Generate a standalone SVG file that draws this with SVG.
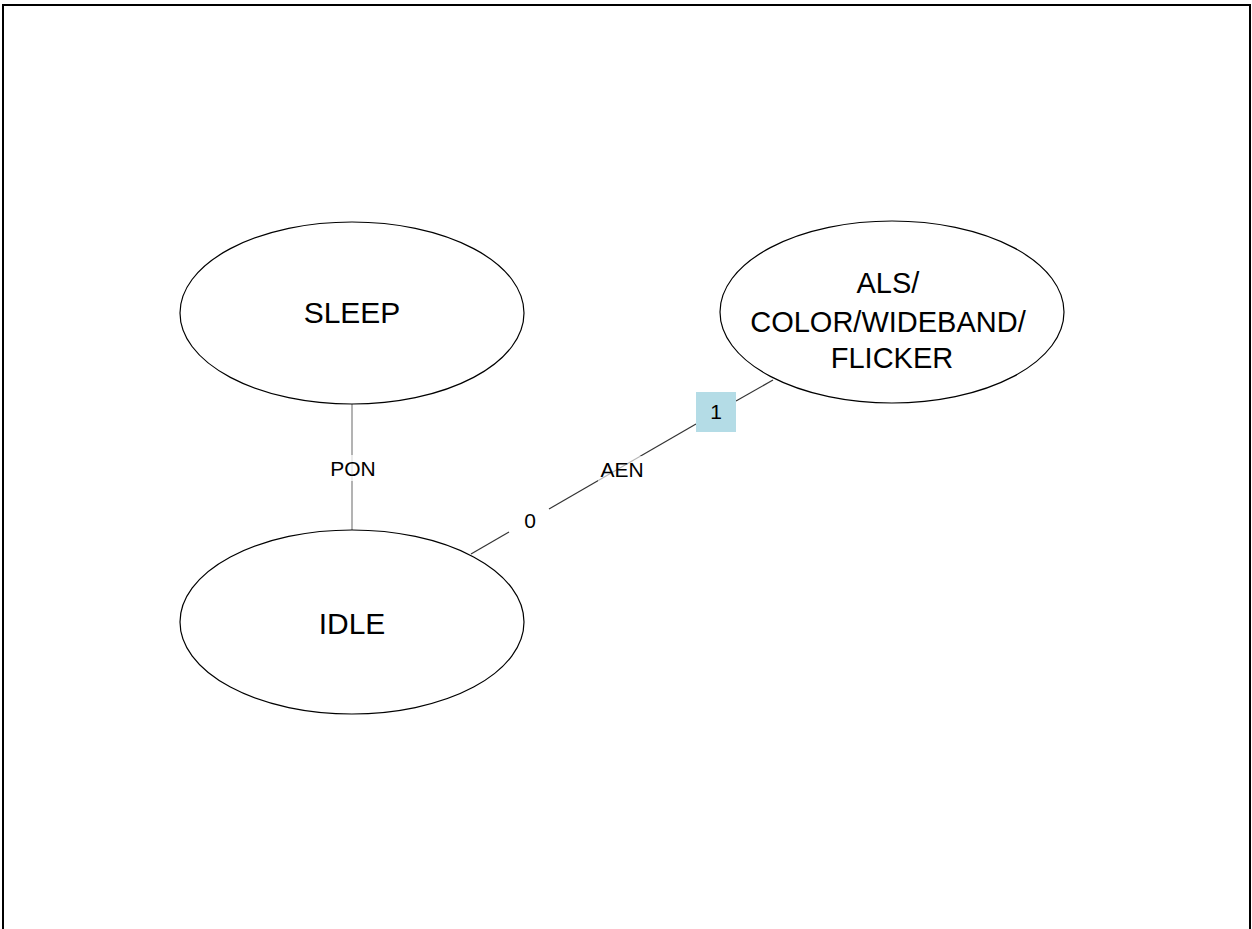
<svg xmlns="http://www.w3.org/2000/svg" width="1252" height="929" viewBox="0 0 1252 929">
  <style>
    .state { fill: #ffffff; stroke: #000000; stroke-width: 1.2; }
    .state-text { font-family: "Liberation Sans", Arial, sans-serif; fill: #000000; text-anchor: middle; }
    .edge { fill: none; stroke-width: 1.2; }
    .edge-label { font-family: "Liberation Sans", Arial, sans-serif; font-size: 21px; fill: #000000; text-anchor: middle; }
  </style>

  <rect width="1252" height="929" fill="#ffffff"/>
  <!-- page frame (open at the bottom) -->
  <path d="M3,940 V5 H1250 V940" fill="none" stroke="#000000" stroke-width="2"/>

  <!-- connectors -->
  <g id="connectors">
    <g id="edge-pon">
      <line class="edge" x1="352" y1="404" x2="352" y2="530" stroke="#808080"/>
      <rect x="328" y="455" width="48" height="26" fill="#ffffff" opacity="0.75"/>
      <text class="edge-label" x="353" y="476">PON</text>
    </g>
    <g id="edge-aen">
      <line class="edge" x1="471" y1="554" x2="509" y2="532" stroke="#333333"/>
      <line class="edge" x1="549" y1="509" x2="696" y2="424" stroke="#333333"/>
      <line class="edge" x1="736" y1="401" x2="773" y2="380" stroke="#333333"/>
      <rect x="598" y="456" width="48" height="26" fill="#ffffff" opacity="0.65"/>
      <text class="edge-label" x="622" y="477">AEN</text>
      <text class="edge-label" x="530" y="528">0</text>
      <rect x="696" y="392" width="40" height="40" fill="#b4dce6"/>
      <text class="edge-label" x="716" y="419">1</text>
    </g>
  </g>

  <!-- states -->
  <g id="node-sleep">
    <ellipse class="state" cx="352" cy="313" rx="172" ry="91"/>
    <text class="state-text" x="352" y="323" font-size="30">SLEEP</text>
  </g>

  <g id="node-idle">
    <ellipse class="state" cx="352" cy="622" rx="172" ry="92"/>
    <text class="state-text" x="352" y="634" font-size="30">IDLE</text>
  </g>

  <g id="node-active">
    <ellipse class="state" cx="892" cy="312" rx="172" ry="91"/>
    <text class="state-text" font-size="29">
      <tspan x="892" y="293">ALS/</tspan>
      <tspan x="892" y="332">COLOR/WIDEBAND/</tspan>
      <tspan x="892" y="368">FLICKER</tspan>
    </text>
  </g>
</svg>
